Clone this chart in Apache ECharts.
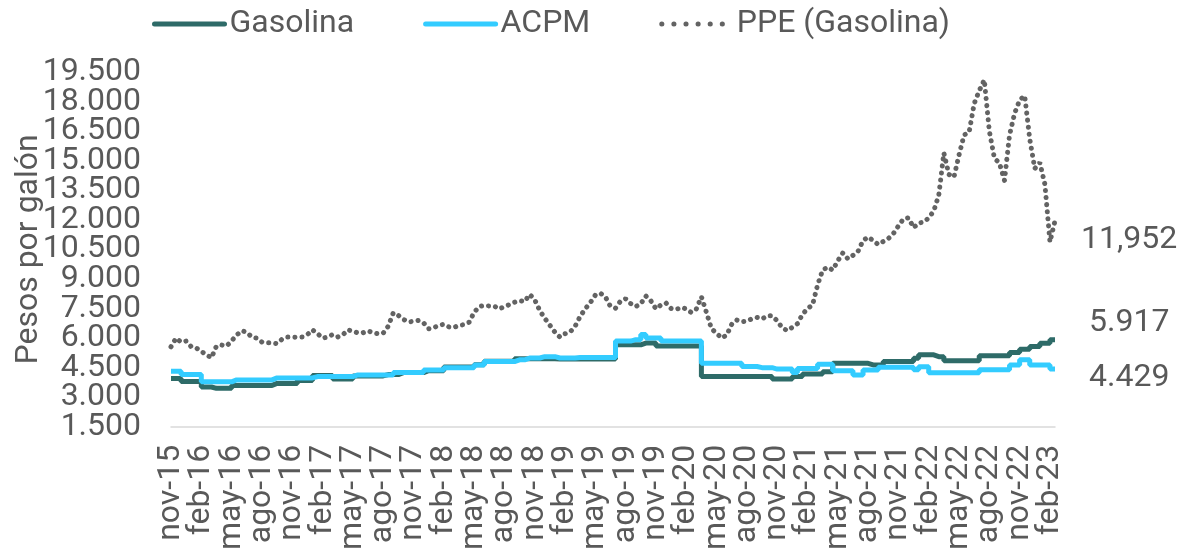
<!DOCTYPE html>
<html>
<head>
<meta charset="utf-8">
<script src="https://cdn.jsdelivr.net/npm/echarts@6/dist/echarts.min.js"></script>
<style>
html,body{margin:0;padding:0;background:#fff;}
#chart{width:1182px;height:553px;}
</style>
</head>
<body>
<div id="chart"></div>
<script>
// Month names (Spanish) and the span of the data: nov-15 .. feb-23, two readings per month
var monthNames = ['ene','feb','mar','abr','may','jun','jul','ago','sep','oct','nov','dic'];
var startYear = 2015, startMonth = 10; // nov-2015
var monthCount = 88;                    // through feb-2023

var categories = [];
for (var k = 0; k < monthCount; k++) {
  var m = (startMonth + k) % 12;
  var y = startYear + Math.floor((startMonth + k) / 12);
  var lab = monthNames[m] + '-' + String(y).slice(2);
  categories.push(lab + ' q1');
  categories.push(lab + ' q2');
}

var yTicks = { min: 1500, max: 19500, interval: 1500 };
var yTickLabels = ['1.500','3.000','4.500','6.000','7.500','9.000','10.500',
                   '12.000','13.500','15.000','16.500','18.000','19.500'];

var gasolina = [
  3950,3950,
  3800,3800,3800,3800,
  3520,3520,
  3450,3450,3450,3450,
  3600,3600,3600,3600,3600,3600,3600,3600,
  3700,3700,3700,3700,3700,
  3850,3850,3850,
  4100,4100,4100,4100,
  3930,3930,3930,3930,
  4080,4080,4080,4080,4080,4080,
  4150,4150,4150,
  4250,4250,4250,4250,4250,
  4350,4350,4350,4350,
  4530,4530,4530,4530,4530,4530,
  4650,4650,
  4830,4830,4830,4830,4830,4830,
  4950,4950,4950,4950,4950,4950,4950,4950,
  4940,4940,4940,4940,4940,4940,4940,4940,4940,4940,4940,4940,
  5660,5660,5660,5660,5660,
  5750,5750,5750,
  5600,5600,5600,5600,5600,5600,5600,5600,5600,
  4050,4050,4050,4050,4050,4050,4050,4050,4050,4050,4050,4050,4050,4050,
  3930,3930,3930,3930,
  4050,4050,
  4180,4180,4180,4180,
  4290,4290,
  4720,4720,4720,4720,4720,4720,4720,
  4640,4640,4640,
  4810,4810,4810,4810,4810,4810,
  4980,
  5150,5150,5150,
  5060,5060,
  4850,4850,4850,4850,4850,4850,4850,
  5100,5100,5100,5100,5100,5100,
  5270,5270,
  5440,5440,
  5570,5570,
  5740,5740,
  5917,5917
];

var acpm = [
  4320,4320,
  4150,4150,4150,4150,
  3780,3780,3780,3780,3780,3780,
  3880,3880,3880,3880,3880,3880,3880,3880,
  3980,3980,3980,3980,3980,3980,3980,3980,
  4050,4050,4050,4050,4050,4050,4050,4050,
  4130,4130,4130,4130,4130,4130,4130,4130,
  4250,4250,4250,4250,4250,4250,
  4380,4380,4380,4380,
  4500,4500,4500,4500,4500,4500,
  4640,4640,
  4810,4810,4810,4810,4810,4810,
  4900,4900,
  4990,4990,4990,
  5060,5060,5060,
  4990,4990,4990,4990,
  5020,5020,5020,5020,5020,5020,5020,5020,
  5850,5850,5850,
  5920,5920,
  6180,
  6000,6000,6000,
  5850,5850,5850,5850,5850,5850,5850,5850,
  4730,4730,4730,4730,4730,4730,4730,4730,
  4560,4560,4560,
  4500,4500,4500,
  4430,4430,4430,4430,
  4250,
  4460,4460,4460,4460,
  4680,4680,4680,
  4340,4340,4340,4340,
  4130,4130,
  4380,4380,4380,
  4520,4520,4520,4520,4520,4520,4520,
  4400,
  4550,4550,
  4240,4240,4240,4240,4240,4240,4240,4240,4240,4240,
  4400,4400,4400,4400,4400,4400,
  4640,4640,
  4900,4900,
  4640,4640,4640,4640,
  4429,4429
];

var ppe = [
  5560,6000,5800,5850,5560,5500,5330,5150,5000,5600,
  5650,5600,5860,6160,6370,6300,6050,6000,5800,5760,
  5760,5720,5950,6050,6060,6040,6060,6180,6420,6230,
  6000,6050,6180,6060,6160,6420,6350,6260,6270,6370,
  6270,6220,6250,6600,7280,7150,6950,6820,6850,6900,
  6770,6470,6520,6650,6700,6570,6540,6650,6680,6800,
  7300,7600,7660,7630,7620,7480,7600,7700,7820,7900,
  7850,8220,7950,7400,7000,6650,6300,6050,6220,6300,
  6600,7100,7480,7800,8180,8280,8090,7600,7520,7880,
  8000,7750,7600,7740,8140,7890,7480,7680,7780,7500,
  7450,7560,7480,7300,7480,8100,7300,6470,6250,6000,
  6150,6700,6920,6830,6860,6980,7050,6970,7130,7130,
  6880,6520,6380,6550,6730,7200,7500,7680,8700,9450,
  9600,9450,9920,10320,10020,10200,10400,10950,11130,10950,
  10750,10900,11050,11300,11690,12050,12100,11600,11840,11880,
  12100,12450,13270,15390,14300,14170,15290,16300,16450,17900,
  18550,19100,16500,15130,14880,14000,16300,17400,18070,18300,
  16100,14600,14900,13800,10880,11952
];

function fmt(v, sep) {
  return String(Math.round(v)).replace(/\B(?=(\d{3})+(?!\d))/g, sep);
}

var textColor = '#595959';
var fontFam = 'Roboto';
var fs = 32;

var chart = echarts.init(document.getElementById('chart'), null, {renderer: 'canvas'});
chart.setOption({
  animation: false,
  backgroundColor: '#ffffff',
  textStyle: { fontFamily: fontFam },
  legend: {
    left: 147, top: 1,
    itemWidth: 70, itemHeight: 2, itemGap: 69,
    itemStyle: { color: 'rgba(0,0,0,0)', borderWidth: 0 },
    textStyle: { color: textColor, fontSize: fs, fontFamily: fontFam, lineHeight: 36 },
    data: [
      { name: 'Gasolina', lineStyle: { width: 5, cap: 'round' } },
      { name: 'ACPM', lineStyle: { width: 5, cap: 'round' } },
      { name: 'PPE (Gasolina)', lineStyle: { type: [0.1, 12], width: 5, cap: 'round' } }
    ]
  },
  grid: { left: 171, right: 127, top: 72, bottom: 126, containLabel: false },
  xAxis: {
    type: 'category',
    data: categories,
    boundaryGap: false,
    axisLine: { show: true, lineStyle: { color: '#D9D9D9', width: 1.5 } },
    axisTick: { show: false },
    axisLabel: {
      rotate: 90,
      interval: 0,
      formatter: function (v, idx) { return idx % 6 === 0 ? v.split(' ')[0] : ''; },
      hideOverlap: false,
      color: textColor, fontSize: fs, fontFamily: fontFam, margin: 18
    },
    splitLine: { show: false }
  },
  yAxis: [
    {
      type: 'value',
      min: yTicks.min, max: yTicks.max, interval: yTicks.interval,
      name: 'Pesos por galón',
      nameLocation: 'middle',
      nameGap: 126,
      nameTextStyle: { color: textColor, fontSize: fs, fontFamily: fontFam },
      axisLine: { show: false },
      axisTick: { show: false },
      splitLine: { show: false },
      axisLabel: { show: false }
    },
    {
      type: 'category',
      data: yTickLabels,
      position: 'left',
      boundaryGap: false,
      axisLine: { show: false },
      axisTick: { show: false },
      splitLine: { show: false },
      axisLabel: {
        interval: 0, hideOverlap: false,
        color: textColor, fontSize: fs, fontFamily: fontFam, margin: 30
      }
    }
  ],
  series: [
    {
      name: 'Gasolina', type: 'line', data: gasolina, step: 'end',
      yAxisIndex: 0, symbol: 'none', z: 2,
      lineStyle: { color: '#2E6B68', width: 5 },
      itemStyle: { color: '#2E6B68' },
      endLabel: {
        show: true, offset: [26, -17],
        formatter: function (p) { return fmt(p.value, '.'); },
        color: textColor, fontSize: fs, fontFamily: fontFam
      }
    },
    {
      name: 'ACPM', type: 'line', data: acpm, step: 'end',
      yAxisIndex: 0, symbol: 'none', z: 3,
      lineStyle: { color: '#33CCFF', width: 5 },
      itemStyle: { color: '#33CCFF' },
      endLabel: {
        show: true, offset: [26, 9],
        formatter: function (p) { return fmt(p.value, '.'); },
        color: textColor, fontSize: fs, fontFamily: fontFam
      }
    },
    {
      name: 'PPE (Gasolina)', type: 'line', data: ppe,
      yAxisIndex: 0, symbol: 'none', z: 4,
      lineStyle: { color: '#636363', width: 5, type: [0.1, 7], cap: 'round' },
      itemStyle: { color: '#636363' },
      endLabel: {
        show: true, offset: [18, 19],
        formatter: function (p) { return fmt(p.value, ','); },
        color: textColor, fontSize: fs, fontFamily: fontFam
      }
    }
  ]
});
</script>
</body>
</html>
